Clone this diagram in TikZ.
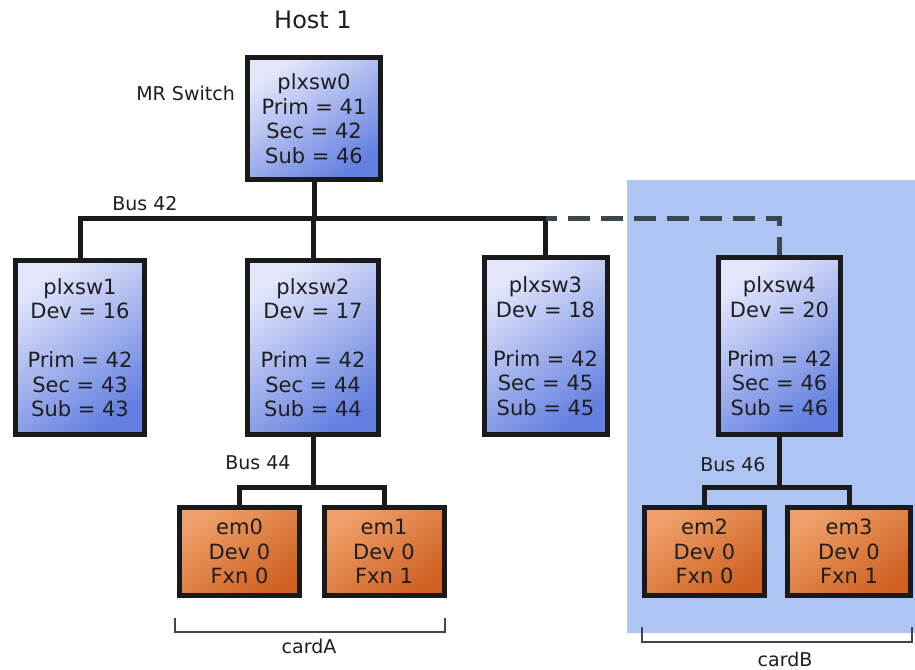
\documentclass[tikz,border=0pt]{standalone}
\usepackage{fontspec}
\setmainfont{DejaVu Sans}
\definecolor{ink}{HTML}{1E1E1E}
\definecolor{edge}{HTML}{1A1A1A}
\definecolor{bluelt}{HTML}{E4E7FB}
\definecolor{bluedk}{HTML}{6480E0}
\definecolor{orangelt}{HTML}{EFA06A}
\definecolor{orangedk}{HTML}{CF6122}
\definecolor{panel}{HTML}{AEC5F4}
\definecolor{dashgray}{HTML}{3C474D}
\definecolor{bracketgray}{HTML}{444444}
\begin{document}
\begin{tikzpicture}[x=1pt,y=-1pt,
  boxbase/.style={draw=edge, line width=5pt, inner sep=0pt, align=center,
    text=ink, font=\fontsize{21}{24.5}\selectfont},
  swbox/.style={boxbase, top color=bluelt, bottom color=bluedk, shading angle=35},
  embox/.style={boxbase, top color=orangelt, bottom color=orangedk, shading angle=35,
    minimum width=120pt, minimum height=88pt},
  wire/.style={draw=edge, line width=5pt},
  dashwire/.style={draw=dashgray, line width=5pt, dash pattern=on 22pt off 11pt, dash phase=11pt},
  bracket/.style={draw=bracketgray, line width=1.4pt},
  lbl/.style={text=ink, inner sep=0pt, font=\fontsize{19}{22}\selectfont},
  title/.style={text=ink, inner sep=0pt, font=\fontsize{24}{28}\selectfont}]
\useasboundingbox (0,0) rectangle (915,669);

% card B backdrop
\fill[panel] (627,180) rectangle (915,633);

% switches
\node[swbox, minimum width=133pt, minimum height=122pt] (p0) at (314,118.5)
  {plxsw0\\Prim = 41\\Sec = 42\\Sub = 46};
\node[swbox, minimum width=129pt, minimum height=174pt] (p1) at (80,347.5)
  {plxsw1\\Dev = 16\\[24.5pt]Prim = 42\\Sec = 43\\Sub = 43};
\node[swbox, minimum width=131pt, minimum height=174pt] (p2) at (313,347.5)
  {plxsw2\\Dev = 17\\[24.5pt]Prim = 42\\Sec = 44\\Sub = 44};
\node[swbox, minimum width=123pt, minimum height=177pt] (p3) at (545.5,346)
  {plxsw3\\Dev = 18\\[24.5pt]Prim = 42\\Sec = 45\\Sub = 45};
\node[swbox, minimum width=122pt, minimum height=177pt] (p4) at (779.5,346)
  {plxsw4\\Dev = 20\\[24.5pt]Prim = 42\\Sec = 46\\Sub = 46};

% endpoints
\node[embox] (e0) at (239.5,551.5) {em0\\Dev 0\\Fxn 0};
\node[embox] (e1) at (384,551.5) {em1\\Dev 0\\Fxn 1};
\node[embox] (e2) at (704.5,551.5) {em2\\Dev 0\\Fxn 0};
\node[embox, minimum width=123pt] (e3) at (849,551.5) {em3\\Dev 0\\Fxn 1};

% bus junctions
\coordinate (b42) at (314,218);
\coordinate (b44) at (313,487);
\coordinate (b46) at (779.5,487);

% bus wiring
\draw[wire] (p0.south) -- (b42);
\draw[wire] (p1.north) |- (b42) -| (p3.north);
\draw[wire] (p2.north |- b42) -- (p2.north);
\draw[dashwire] (p3.north |- b42) -| (p4.north);
\draw[wire] (p2.south) -- (b44);
\draw[wire] (e0.north) |- (b44) -| (e1.north);
\draw[wire] (p4.south) -- (b46);
\draw[wire] (e2.north) |- (b46) -| (e3.north);

% labels
\node[title] (host) at (313,20) {Host 1};
\node[lbl, anchor=east] (mr) at (235,93) {MR Switch};
\node[lbl] (l42) at (145,204) {Bus 42};
\node[lbl] (l44) at (258,463) {Bus 44};
\node[lbl] (l46) at (733,465) {Bus 46};

% card brackets
\draw[bracket] (175,618) -- (175,632) -- (445,632) -- (445,618);
\node[lbl] (ca) at (309,646) {cardA};
\draw[bracket] (642,627) -- (642,642) -- (912,642) -- (912,627);
\node[lbl] (cb) at (785,659) {cardB};
\end{tikzpicture}
\end{document}
